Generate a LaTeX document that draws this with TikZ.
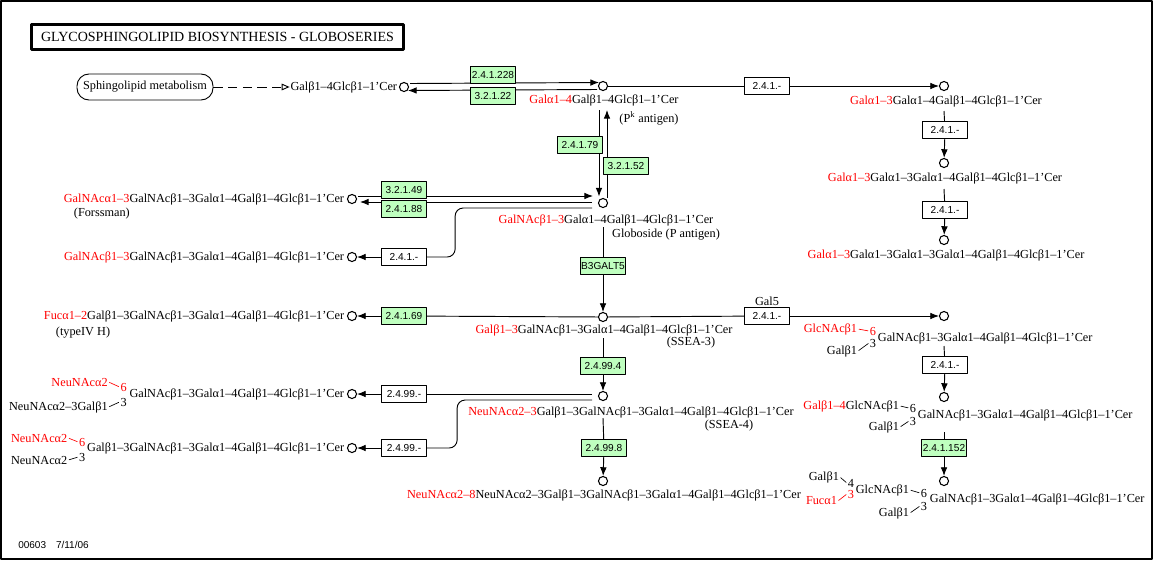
\documentclass[tikz,border=0pt]{standalone}
\usepackage{fontspec}
\setmainfont{Liberation Serif}
\setsansfont{Liberation Sans}
\usepackage{xcolor}
\usepackage{tikz}
\usetikzlibrary{arrows.meta,positioning,backgrounds}
\definecolor{keggred}{RGB}{255,0,0}
\definecolor{kegggreen}{RGB}{191,255,191}
\newcommand{\gred}[1]{\textcolor{keggred}{#1}}
\newcommand{\cpdfont}{\fontsize{9.2}{10}\selectfont}
\newcommand{\ecfont}{\fontsize{7.6}{8}\sffamily\selectfont}

\begin{document}
\begin{tikzpicture}[x=0.75pt, y=-0.75pt, line join=round,
   cpd/.style={circle, draw, line width=0.8pt, minimum size=6.8pt, inner sep=0pt, fill=white},
   lab/.style={font=\cpdfont, inner sep=0.5pt},
   ec/.style={draw, line width=0.7pt, fill=white, font=\ecfont, minimum width=34pt, minimum height=12.5pt, inner sep=0.8pt},
   ecg/.style={ec, fill=kegggreen},
   rxn/.style={line width=0.7pt, -{Latex[length=6.5pt,width=5pt]}},
   lnk/.style={line width=0.7pt},
   bond/.style={line width=0.5pt, shorten <=0.6pt, shorten >=0.6pt}]
   \path[use as bounding box] (0,0) rectangle (1156,561);
   % Map 00603: globo-series glycosphingolipids
   \draw[line width=1.1pt] (1,1) rectangle (1152,559);

   \node[draw, line width=2.2pt, minimum width=279pt, minimum height=19pt,
         font=\fontsize{10.5}{11}\selectfont] (title) at (217.5,37)
         {GLYCOSPHINGOLIPID BIOSYNTHESIS - GLOBOSERIES};
   \node[draw, line width=0.7pt, rounded corners=9pt, minimum width=102pt,
         minimum height=19.5pt, font=\cpdfont] (sphingo) at (145,87) {Sphingolipid metabolism};
   \node[anchor=west, inner sep=0pt, font=\fontsize{7.5}{8}\sffamily\selectfont] (mapid)
         at (18,545) {00603\quad 7/11/06};

   % compounds
   \node[cpd] (c1) at (404,87) {};
   \node[cpd] (c2) at (603,86) {};
   \node[cpd] (c3) at (944,86) {};
   \node[cpd] (c4) at (944,163) {};
   \node[cpd] (c5) at (944,240) {};
   \node[cpd] (c6) at (603,203) {};
   \node[cpd] (c7) at (352,199) {};
   \node[cpd] (c8) at (352,257) {};
   \node[cpd] (c9) at (603,317) {};
   \node[cpd] (c10) at (352,316) {};
   \node[cpd] (c11) at (944,316) {};
   \node[cpd] (c12) at (603,396) {};
   \node[cpd] (c13) at (352,394) {};
   \node[cpd] (c14) at (352,448) {};
   \node[cpd] (c15) at (603,481) {};
   \node[cpd] (c16) at (944,397) {};
   \node[cpd] (c17) at (944,481) {};

   % compound names
   \node[lab, anchor=east] (l1) at (398,87) {Galβ1--4Glcβ1--1'Cer};
   \node[lab] (l2) at (604,100) {\gred{Galα1--4}Galβ1--4Glcβ1--1'Cer};
   \node[lab] (l2a) at (649,118) {(P\textsuperscript{k} antigen)};
   \node[lab] (l3) at (946,101) {\gred{Galα1--3}Galα1--4Galβ1--4Glcβ1--1'Cer};
   \node[lab] (l4) at (945,178) {\gred{Galα1--3}Galα1--3Galα1--4Galβ1--4Glcβ1--1'Cer};
   \node[lab] (l5) at (946,255) {\gred{Galα1--3}Galα1--3Galα1--3Galα1--4Galβ1--4Glcβ1--1'Cer};
   \node[lab] (l6) at (606,220) {\gred{GalNAcβ1--3}Galα1--4Galβ1--4Glcβ1--1'Cer};
   \node[lab] (l6a) at (666,235) {Globoside (P antigen)};
   \node[lab, anchor=east] (l7) at (345,199) {\gred{GalNAcα1--3}GalNAcβ1--3Galα1--4Galβ1--4Glcβ1--1'Cer};
   \node[lab, anchor=west] (l7a) at (73,214) {(Forssman)};
   \node[lab, anchor=east] (l8) at (345,257) {\gred{GalNAcβ1--3}GalNAcβ1--3Galα1--4Galβ1--4Glcβ1--1'Cer};
   \node[lab] (l9) at (604,330) {\gred{Galβ1--3}GalNAcβ1--3Galα1--4Galβ1--4Glcβ1--1'Cer};
   \node[lab] (l9a) at (691,343) {(SSEA-3)};
   \node[lab, anchor=east] (l10) at (345,316) {\gred{Fucα1--2}Galβ1--3GalNAcβ1--3Galα1--4Galβ1--4Glcβ1--1'Cer};
   \node[lab, anchor=west] (l10a) at (55,333) {(typeIV H)};
   \node[lab] (l12) at (631,412) {\gred{NeuNAcα2--3}Galβ1--3GalNAcβ1--3Galα1--4Galβ1--4Glcβ1--1'Cer};
   \node[lab] (l12a) at (729,426) {(SSEA-4)};
   \node[lab] (l15) at (604,495) {\gred{NeuNAcα2--8}NeuNAcα2--3Galβ1--3GalNAcβ1--3Galα1--4Galβ1--4Glcβ1--1'Cer};

   % branched names
   \node[lab, anchor=west] (l11) at (877,338) {GalNAcβ1--3Galα1--4Galβ1--4Glcβ1--1'Cer};
   \node[lab] (l11p6) at ([shift={(-4,-7)}]l11.west) {\gred{6}};
   \node[lab] (l11p3) at ([shift={(-4,5)}]l11.west) {3};
   \node[lab, anchor=east] (l11a) at ([shift={(-19,-9)}]l11.west) {\gred{GlcNAcβ1}};
   \node[lab, anchor=east] (l11b) at ([shift={(-19,13)}]l11.west) {Galβ1};

   \node[lab, anchor=west] (l16) at (917,415) {GalNAcβ1--3Galα1--4Galβ1--4Glcβ1--1'Cer};
   \node[lab] (l16p6) at ([shift={(-4,-7)}]l16.west) {6};
   \node[lab] (l16p3) at ([shift={(-4,6)}]l16.west) {3};
   \node[lab, anchor=east] (l16a) at ([shift={(-17,-9)}]l16.west) {\gred{Galβ1--4}GlcNAcβ1};
   \node[lab, anchor=east] (l16b) at ([shift={(-17,12)}]l16.west) {Galβ1};

   \node[lab, anchor=west] (l17) at (929,499) {GalNAcβ1--3Galα1--4Galβ1--4Glcβ1--1'Cer};
   \node[lab] (l17p6) at ([shift={(-5,-6)}]l17.west) {6};
   \node[lab] (l17p3) at ([shift={(-5,7)}]l17.west) {3};
   \node[lab, anchor=east] (l17a) at ([shift={(-19,-9)}]l17.west) {GlcNAcβ1};
   \node[lab, anchor=east] (l17b) at ([shift={(-19,14)}]l17.west) {Galβ1};
   \node[lab] (l17q4) at ([shift={(-4,-7)}]l17a.west) {4};
   \node[lab] (l17q3) at ([shift={(-4,4)}]l17a.west) {\gred{3}};
   \node[lab, anchor=east] (l17c) at ([shift={(-15,-13)}]l17a.west) {Galβ1};
   \node[lab, anchor=east] (l17d) at ([shift={(-17,11)}]l17a.west) {\gred{Fucα1}};

   \node[lab, anchor=east] (l13) at (345,394) {GalNAcβ1--3Galα1--4Galβ1--4Glcβ1--1'Cer};
   \node[lab] (l13p6) at ([shift={(-5,-7)}]l13.west) {\gred{6}};
   \node[lab] (l13p3) at ([shift={(-5,8)}]l13.west) {3};
   \node[lab, anchor=east] (l13a) at ([shift={(-20,-12)}]l13.west) {\gred{NeuNAcα2}};
   \node[lab, anchor=east] (l13b) at ([shift={(-20,13)}]l13.west) {NeuNAcα2--3Galβ1};

   \node[lab, anchor=east] (l14) at (345,448) {Galβ1--3GalNAcβ1--3Galα1--4Galβ1--4Glcβ1--1'Cer};
   \node[lab] (l14p6) at ([shift={(-4,-6)}]l14.west) {\gred{6}};
   \node[lab] (l14p3) at ([shift={(-4,9)}]l14.west) {3};
   \node[lab, anchor=east] (l14a) at ([shift={(-18,-10)}]l14.west) {\gred{NeuNAcα2}};
   \node[lab, anchor=east] (l14b) at ([shift={(-18,12)}]l14.west) {NeuNAcα2};

   \draw[bond, keggred] (l11a.east) -- (l11p6.west);
   \draw[bond] (l11b.east) -- (l11p3.west);
   \draw[bond] (l16a.east) -- (l16p6.west);
   \draw[bond] (l16b.east) -- (l16p3.west);
   \draw[bond] (l17a.east) -- (l17p6.west);
   \draw[bond] (l17b.east) -- (l17p3.west);
   \draw[bond] (l17c.east) -- (l17q4.west);
   \draw[bond, keggred] (l17d.east) -- (l17q3.west);
   \draw[bond, keggred] (l13a.east) -- (l13p6.west);
   \draw[bond] (l13b.east) -- (l13p3.west);
   \draw[bond, keggred] (l14a.east) -- (l14p6.west);
   \draw[bond] (l14b.east) -- (l14p3.west);

   % enzymes
   \node[ecg] (e241228) at (493,75) {2.4.1.228};
   \node[ecg] (e32122) at (493,96) {3.2.1.22};
   \node[ec] (e241a) at (767,86) {2.4.1.-};
   \node[ecg] (e24179) at (580,145) {2.4.1.79};
   \node[ecg] (e32152) at (626,166) {3.2.1.52};
   \node[ec] (e241b) at (945,130) {2.4.1.-};
   \node[ec] (e241e) at (945,210) {2.4.1.-};
   \node[ecg] (e32149) at (404,190) {3.2.1.49};
   \node[ecg] (e24188) at (404,209) {2.4.1.88};
   \node[ec] (e241c) at (404,257) {2.4.1.-};
   \node[ecg] (b3galt5) at (603,266) {B3GALT5};
   \node[ecg] (e24169) at (404,316) {2.4.1.69};
   \node[ec] (e241d) at (767,316) {2.4.1.-};
   \node[lab, above=0.5pt of e241d] (gal5) {Gal5};
   \node[ecg] (e24994) at (603,366) {2.4.99.4};
   \node[ec] (e249a) at (404,394) {2.4.99.-};
   \node[ec] (e249b) at (404,448) {2.4.99.-};
   \node[ecg] (e24998) at (604,448) {2.4.99.8};
   \node[ec] (e241f) at (945,365) {2.4.1.-};
   \node[ecg] (e241152) at (944,448) {2.4.1.152};

   \begin{scope}[on background layer]
      \draw[lnk, dash pattern=on 7pt off 4pt, -{Triangle[open,length=6pt,width=5pt]}]
         (sphingo.east) -- (l1.west);
      \draw[rxn] ([shift={(6,-3.5)}]c1.center) -- ([shift={(-4,-3.5)}]c2.center);
      \draw[rxn] ([shift={(-6,3.5)}]c2.center) -- ([shift={(4,3.5)}]c1.center);
      \draw[lnk] (c2) -- (e241a);
      \draw[rxn] (e241a) -- (c3);
      \draw[rxn] ([shift={(0,25)}]c3.center) -- (e241b) -- (c4);
      \draw[rxn] ([shift={(0,26)}]c4.center) -- (e241e) -- (c5);
      \draw[rxn] ([shift={(-4,24)}]c2.center) -- ([shift={(-4,-6.5)}]c6.center);
      \draw[rxn] ([shift={(4,-5)}]c6.center) -- ([shift={(4,24)}]c2.center);
      \draw[rxn] ([shift={(6,-3)}]c7.center) -- ([shift={(-10,-7)}]c6.center);
      \draw[rxn] ([shift={(-11,-1)}]c6.center) -- ([shift={(8,3)}]c7.center);
      \draw[lnk, rounded corners=6pt] ([shift={(-11,5)}]c6.center)
         -| ([shift={(28,0)}]e241c.east) -- (e241c.east);
      \draw[rxn] (e241c) -- (c8);
      \draw[rxn] ([shift={(0,24)}]c6.center) -- (b3galt5) -- (c9);
      \draw[lnk] (c9) -- (e24169);
      \draw[rxn] (e24169) -- (c10);
      \draw[lnk] (c9) -- (e241d);
      \draw[rxn] (e241d) -- (c11);
      \draw[rxn] ([shift={(0,21)}]c9.center) -- (e24994) -- (c12);
      \draw[lnk] ([shift={(-11,-2)}]c12.center) -- (e249a);
      \draw[rxn] (e249a) -- (c13);
      \draw[lnk, rounded corners=6pt] ([shift={(-11,4)}]c12.center)
         -| ([shift={(30,0)}]e249b.east) -- (e249b.east);
      \draw[rxn] (e249b) -- (c14);
      \draw[rxn] ([shift={(0,22)}]c12.center) -- (e24998) -- (c15);
      \draw[rxn] ([shift={(0,30)}]c11.center) -- (e241f) -- (c16);
      \draw[rxn] ([shift={(0,35)}]c16.center) -- (e241152) -- (c17);
   \end{scope}
\end{tikzpicture}
\end{document}
